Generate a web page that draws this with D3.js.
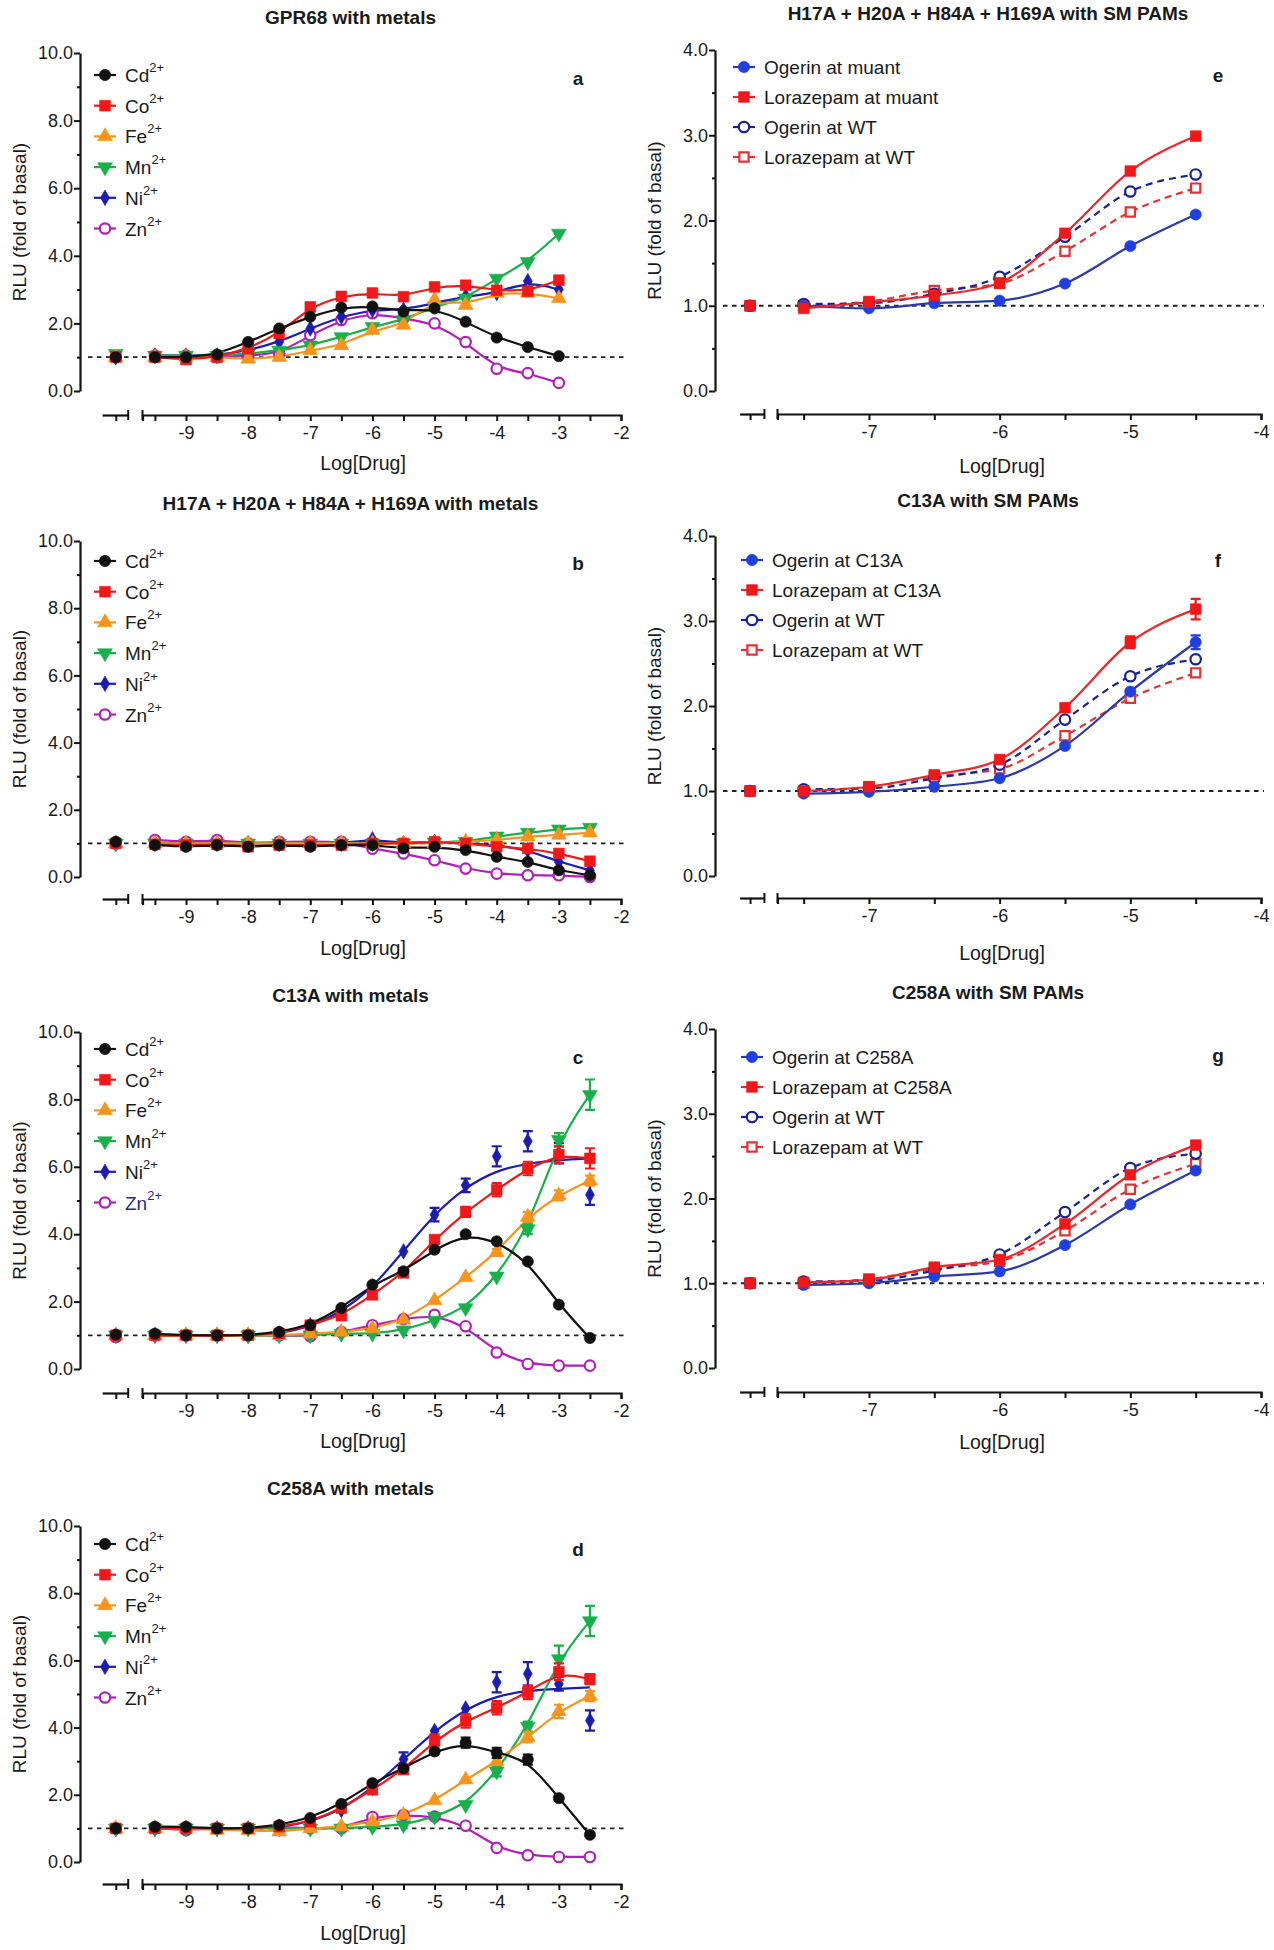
<!DOCTYPE html>
<html>
<head>
<meta charset="utf-8">
<script src="https://cdn.jsdelivr.net/npm/d3@7"></script>
<style>
  body { margin: 0; background: #fff; }
  svg text { font-family: "Liberation Sans", Arial, sans-serif; fill: #1a1a1a; }
</style>
</head>
<body>
<svg id="fig" width="1274" height="1950"></svg>
<script>
// ---- doses (log M); first value of every series is the vehicle control ----
var metalDosesA = [-9.5, -9, -8.5, -8, -7.5, -7, -6.5, -6, -5.5, -5, -4.5, -4, -3.5, -3];
var metalDoses = [-9.5, -9, -8.5, -8, -7.5, -7, -6.5, -6, -5.5, -5, -4.5, -4, -3.5, -3, -2.5];
var pamDoses = [-7.5, -7, -6.5, -6, -5.5, -5, -4.5];

// ---- a: GPR68 with metals ----
var a_Cd = [1.0, 1.0, 1.0, 1.08, 1.45, 1.85, 2.2, 2.47, 2.5, 2.35, 2.45, 2.05, 1.58, 1.3, 1.03];
var a_Co = [1.0, 1.0, 0.93, 1.0, 1.25, 1.7, 2.49, 2.8, 2.9, 2.79, 3.08, 3.13, 2.98, 2.95, 3.28];
var a_Fe = [1.0, 1.0, 1.0, 1.0, 0.95, 1.0, 1.2, 1.35, 1.8, 1.95, 2.7, 2.54, 2.9, 2.9, 2.74];
var a_Mn = [1.1, 1.05, 1.05, 1.05, 1.1, 1.2, 1.35, 1.6, 1.9, 2.1, 2.5, 2.74, 3.33, 3.82, 4.66];
var a_Ni = [1.0, 1.05, 1.05, 1.05, 1.2, 1.45, 1.85, 2.2, 2.4, 2.4, 2.6, 2.8, 2.9, 3.25, 3.0];
var a_Zn = [1.0, 1.05, 1.05, 1.0, 1.05, 1.1, 1.65, 2.1, 2.3, 2.15, 2.0, 1.45, 0.66, 0.53, 0.24];

// ---- b: H17A + H20A + H84A + H169A with metals ----
var b_Cd = [1.05, 0.95, 0.9, 0.95, 0.9, 0.95, 0.9, 0.95, 0.95, 0.85, 0.9, 0.8, 0.6, 0.45, 0.2, 0.05];
var b_Co = [1.0, 0.97, 0.95, 0.97, 0.9, 0.95, 0.95, 0.95, 1.0, 1.0, 1.05, 1.0, 0.9, 0.85, 0.7, 0.47];
var b_Fe = [1.0, 1.0, 1.0, 1.0, 1.0, 1.0, 1.0, 1.0, 1.0, 1.0, 1.0, 1.05, 1.1, 1.2, 1.25, 1.32];
var b_Mn = [1.0, 1.0, 1.0, 1.0, 1.0, 1.0, 1.0, 1.0, 1.0, 1.0, 1.03, 1.05, 1.21, 1.32, 1.42, 1.47];
var b_Ni = [1.0, 1.0, 1.0, 1.0, 1.0, 1.0, 1.0, 1.0, 1.12, 1.0, 1.05, 1.0, 0.95, 0.8, 0.45, 0.2];
var b_Zn = [1.0, 1.1, 1.05, 1.1, 1.0, 1.05, 1.05, 1.05, 0.84, 0.7, 0.5, 0.25, 0.1, 0.05, 0.05, 0.0];

// ---- c: C13A with metals ----
var c_Cd = [1.02, 1.05, 1.0, 1.0, 1.0, 1.1, 1.3, 1.81, 2.5, 2.9, 3.54, 4.0, 3.79, 3.19, 1.91, 0.92];
var c_Co = [1.0, 1.0, 1.0, 1.0, 1.0, 1.05, 1.3, 1.58, 2.2, 2.85, 3.84, 4.66, 5.32, 5.95, 6.36, 6.25];
var c_Fe = [1.0, 1.0, 1.0, 1.0, 1.0, 1.0, 1.05, 1.1, 1.2, 1.46, 2.03, 2.72, 3.46, 4.51, 5.15, 5.59];
var c_Mn = [1.0, 1.0, 1.0, 1.0, 1.0, 1.0, 1.0, 1.05, 1.05, 1.15, 1.44, 1.81, 2.75, 4.15, 6.8, 8.14];
var c_Ni = [1.0, 1.0, 1.0, 1.0, 1.0, 1.05, 1.3, 1.7, 2.45, 3.49, 4.58, 5.45, 6.31, 6.76, 6.4, 5.17];
var c_Zn = [0.95, 1.0, 1.0, 1.0, 1.0, 1.0, 0.97, 1.1, 1.3, 1.48, 1.61, 1.27, 0.49, 0.15, 0.1, 0.1];
var c_Co_err = [0, 0, 0, 0, 0, 0, 0, 0, 0, 0, 0.1, 0.15, 0.2, 0.2, 0.25, 0.3];
var c_Fe_err = [0, 0, 0, 0, 0, 0, 0, 0, 0, 0, 0, 0, 0.1, 0.15, 0.15, 0.15];
var c_Mn_err = [0, 0, 0, 0, 0, 0, 0, 0, 0, 0, 0, 0, 0, 0.15, 0.2, 0.45];
var c_Ni_err = [0, 0, 0, 0, 0, 0, 0, 0, 0, 0, 0.2, 0.2, 0.3, 0.3, 0.3, 0.3];
// fitted Ni curve as drawn in the figure (read at each dose, same layout as the data)
var c_Ni_fit = [1.0, 1.0, 1.0, 1.0, 1.0, 1.05, 1.25, 1.7, 2.4, 3.5, 4.6, 5.4, 5.9, 6.1, 6.2, 6.25];

// ---- d: C258A with metals ----
var d_Cd = [1.0, 1.05, 1.05, 1.0, 1.0, 1.1, 1.31, 1.73, 2.35, 2.79, 3.29, 3.55, 3.25, 3.05, 1.9, 0.81];
var d_Co = [1.0, 1.0, 1.0, 1.0, 1.0, 1.05, 1.2, 1.6, 2.15, 2.75, 3.6, 4.2, 4.59, 5.05, 5.66, 5.44];
var d_Fe = [1.0, 1.0, 1.0, 0.95, 0.95, 0.9, 1.0, 1.05, 1.2, 1.4, 1.83, 2.45, 2.99, 3.71, 4.48, 4.94];
var d_Mn = [1.0, 1.0, 1.0, 1.0, 1.0, 1.0, 1.0, 1.0, 1.05, 1.1, 1.35, 1.7, 2.7, 4.03, 6.04, 7.17];
var d_Ni = [1.0, 1.0, 1.0, 1.0, 1.0, 1.05, 1.2, 1.55, 2.2, 3.06, 3.9, 4.57, 5.35, 5.6, 5.3, 4.21];
var d_Zn = [1.0, 1.0, 0.95, 1.0, 1.0, 1.05, 1.0, 1.0, 1.34, 1.4, 1.35, 1.08, 0.42, 0.2, 0.15, 0.15];
var d_Cd_err = [0, 0, 0, 0, 0, 0, 0, 0, 0, 0, 0, 0.15, 0.15, 0.15, 0, 0];
var d_Co_err = [0, 0, 0, 0, 0, 0, 0, 0, 0, 0, 0.2, 0.2, 0.2, 0.2, 0.25, 0.15];
var d_Fe_err = [0, 0, 0, 0, 0, 0, 0, 0, 0, 0, 0, 0, 0, 0.15, 0.2, 0.15];
var d_Mn_err = [0, 0, 0, 0, 0, 0, 0, 0, 0, 0, 0, 0, 0.15, 0.15, 0.4, 0.45];
var d_Ni_err = [0, 0, 0, 0, 0, 0, 0, 0, 0, 0.2, 0, 0, 0.3, 0.35, 0.2, 0.3];
var d_Ni_fit = [1.0, 1.0, 1.0, 1.0, 1.0, 1.02, 1.2, 1.55, 2.2, 3.05, 3.9, 4.55, 4.95, 5.1, 5.15, 5.2];

// ---- e/f/g: SM PAMs ----
var e_OgMut = [1.0, 1.0, 0.97, 1.03, 1.06, 1.26, 1.70, 2.07];
var e_LoMut = [1.0, 0.97, 1.04, 1.12, 1.27, 1.85, 2.58, 2.99];
var e_OgWT = [1.0, 1.02, 1.03, 1.14, 1.34, 1.81, 2.34, 2.54];
var e_LoWT = [1.0, 1.0, 1.05, 1.18, 1.26, 1.64, 2.10, 2.38];
var f_OgC13A = [1.0, 0.97, 0.99, 1.05, 1.15, 1.53, 2.17, 2.75];
var f_LoC13A = [1.0, 1.0, 1.05, 1.19, 1.37, 1.98, 2.75, 3.14];
var f_OgWT = [1.0, 1.02, 1.03, 1.15, 1.31, 1.84, 2.35, 2.55];
var f_LoWT = [1.0, 1.0, 1.05, 1.17, 1.26, 1.65, 2.09, 2.39];
var f_OgC13A_err = [0, 0, 0, 0, 0, 0, 0, 0.08];
var f_LoC13A_err = [0, 0, 0, 0, 0, 0, 0.07, 0.12];
var g_OgC258A = [1.0, 0.98, 1.0, 1.08, 1.14, 1.45, 1.93, 2.33];
var g_LoC258A = [1.0, 1.01, 1.04, 1.19, 1.28, 1.70, 2.28, 2.63];
var g_OgWT = [1.0, 1.02, 1.03, 1.15, 1.34, 1.84, 2.36, 2.53];
var g_LoWT = [1.0, 1.0, 1.05, 1.17, 1.26, 1.62, 2.11, 2.41];

// ---- marker / line styles ----
var metalStyle = {
  Cd: { color: "#111111", shape: "circle", open: false },
  Co: { color: "#f01818", shape: "square", open: false },
  Fe: { color: "#f7941d", shape: "triangle", open: false },
  Mn: { color: "#17b04a", shape: "down", open: false },
  Ni: { color: "#1c1cb0", shape: "diamond", open: false },
  Zn: { color: "#b020b8", shape: "circle", open: true }
};
var pamStyle = {
  ogMut: { color: "#1f3fe0", line: "#2a3aa8", shape: "circle", open: false, dash: null },
  loMut: { color: "#f01818", line: "#e8282c", shape: "square", open: false, dash: null },
  ogWT:  { color: "#1a2290", line: "#1a2290", shape: "circle", open: true, dash: "7,5" },
  loWT:  { color: "#e43232", line: "#e43232", shape: "square", open: true, dash: "7,5" }
};

var svg = d3.select("#fig");

function metalSeries(vals, errs, doses, fits) {
  return ["Cd", "Co", "Fe", "Mn", "Ni", "Zn"].map(function(n, i) {
    return { name: n, sup: "2+", values: vals[i], err: errs ? errs[i] : null,
             fit: fits ? fits[i] : null, doses: doses, style: metalStyle[n] };
  });
}

var panels = [
  { id: "a", side: "L", title: "GPR68 with metals", yTop: 53, yBot: 391, axisY: 415, titleY: 17, letterY: 78, legTop: 75, labelY: 463,
    series: metalSeries([a_Cd, a_Co, a_Fe, a_Mn, a_Ni, a_Zn], null, metalDosesA) },
  { id: "b", side: "L", title: "H17A + H20A + H84A + H169A with metals", yTop: 541, yBot: 877, axisY: 899, titleY: 503, letterY: 563, legTop: 561, labelY: 948,
    series: metalSeries([b_Cd, b_Co, b_Fe, b_Mn, b_Ni, b_Zn], null, metalDoses) },
  { id: "c", side: "L", title: "C13A with metals", yTop: 1032, yBot: 1369, axisY: 1393, titleY: 995, letterY: 1057, legTop: 1049, labelY: 1441, znLegend: "#2b2b8c",
    series: metalSeries([c_Cd, c_Co, c_Fe, c_Mn, c_Ni, c_Zn], [null, c_Co_err, c_Fe_err, c_Mn_err, c_Ni_err, null], metalDoses,
                        [null, null, null, null, c_Ni_fit, null]) },
  { id: "d", side: "L", title: "C258A with metals", yTop: 1526, yBot: 1862, axisY: 1884, titleY: 1488, letterY: 1549, legTop: 1544, labelY: 1933,
    series: metalSeries([d_Cd, d_Co, d_Fe, d_Mn, d_Ni, d_Zn], [d_Cd_err, d_Co_err, d_Fe_err, d_Mn_err, d_Ni_err, null], metalDoses,
                        [null, null, null, null, d_Ni_fit, null]) },
  { id: "e", side: "R", title: "H17A + H20A + H84A + H169A with SM PAMs", yTop: 50, yBot: 391, axisY: 414, titleY: 13, letterY: 75, legTop: 67, legDx: 29, labelY: 466,
    series: [
      { name: "Ogerin at muant", values: e_OgMut, style: pamStyle.ogMut },
      { name: "Lorazepam at muant", values: e_LoMut, style: pamStyle.loMut },
      { name: "Ogerin at WT", values: e_OgWT, style: pamStyle.ogWT },
      { name: "Lorazepam at WT", values: e_LoWT, style: pamStyle.loWT }] },
  { id: "f", side: "R", title: "C13A with SM PAMs", yTop: 536, yBot: 876, axisY: 898, titleY: 500, letterY: 560, legTop: 560, legDx: 37, labelY: 953,
    series: [
      { name: "Ogerin at C13A", values: f_OgC13A, err: f_OgC13A_err, style: pamStyle.ogMut },
      { name: "Lorazepam at C13A", values: f_LoC13A, err: f_LoC13A_err, style: pamStyle.loMut },
      { name: "Ogerin at WT", values: f_OgWT, style: pamStyle.ogWT },
      { name: "Lorazepam at WT", values: f_LoWT, style: pamStyle.loWT }] },
  { id: "g", side: "R", title: "C258A with SM PAMs", yTop: 1029, yBot: 1368, axisY: 1392, titleY: 992, letterY: 1055, legTop: 1057, legDx: 37, labelY: 1442,
    series: [
      { name: "Ogerin at C258A", values: g_OgC258A, style: pamStyle.ogMut },
      { name: "Lorazepam at C258A", values: g_LoC258A, style: pamStyle.loMut },
      { name: "Ogerin at WT", values: g_OgWT, style: pamStyle.ogWT },
      { name: "Lorazepam at WT", values: g_LoWT, style: pamStyle.loWT }] }
];

// draw one marker with d3.symbol
function marker(g, st, cx, cy) {
  var type = { circle: d3.symbolCircle, square: d3.symbolSquare, triangle: d3.symbolTriangle,
               down: d3.symbolTriangle, diamond: d3.symbolDiamond }[st.shape];
  var size = { circle: 100, square: 115, triangle: 95, down: 95, diamond: 70 }[st.shape];
  if (st.open) size = 85;
  g.append("path")
    .attr("d", d3.symbol().type(type).size(size)())
    .attr("transform", "translate(" + cx + "," + cy + ")" + (st.shape === "down" ? " rotate(180)" : ""))
    .attr("fill", st.open ? "#fff" : st.color)
    .attr("stroke", st.color)
    .attr("stroke-width", st.open ? 2.2 : 0.6);
}

function drawPanel(p) {
  var left = p.side === "L";
  var g = svg.append("g");
  var axisX = left ? 80 : 715;
  var x = left ? d3.scaleLinear().domain([-9.7, -2]).range([142.5, 621])
               : d3.scaleLinear().domain([-7.7, -4]).range([777.5, 1261]);
  var ctrl = left ? -10.13 : -7.91;          // position of the control dose on the broken segment
  var brk = left ? [-10.35, -9.93] : [-7.99, -7.8];
  var yMax = left ? 10 : 4;
  var y = d3.scaleLinear().domain([0, yMax]).range([p.yBot, p.yTop]);
  var xEnd = x.range()[1];

  // title
  g.append("text").attr("x", (axisX + xEnd) / 2).attr("y", p.titleY)
    .attr("text-anchor", "middle").attr("dominant-baseline", "central")
    .attr("font-size", 19).attr("font-weight", "bold").attr("fill", "#000").text(p.title);

  // y axis
  var major = left ? [0, 2, 4, 6, 8, 10] : [0, 1, 2, 3, 4];
  var minor = left ? [1, 3, 5, 7, 9] : [0.5, 1.5, 2.5, 3.5];
  var yAx = g.append("g").attr("transform", "translate(" + axisX + ",0)")
    .call(d3.axisLeft(y).tickValues(major).tickSize(6).tickSizeOuter(0).tickFormat(d3.format(".1f")));
  g.append("g").attr("transform", "translate(" + axisX + ",0)")
    .call(d3.axisLeft(y).tickValues(minor).tickSize(3).tickFormat(""))
    .select(".domain").remove();

  // x axis (main part + broken control segment)
  var xt = left ? d3.range(-19, -3).map(function(d) { return d / 2; })
                : d3.range(-15, -7).map(function(d) { return d / 2; });
  var xAx = g.append("g").attr("transform", "translate(0," + p.axisY + ")")
    .call(d3.axisBottom(x).tickValues(xt).tickSize(6).tickSizeOuter(6)
      .tickFormat(function(d) { return Number.isInteger(d) ? String(d) : ""; }));
  var xb = d3.scaleLinear().domain(brk).range([x(brk[0]), x(brk[1])]);
  g.append("g").attr("transform", "translate(0," + p.axisY + ")")
    .call(d3.axisBottom(xb).tickValues([ctrl]).tickSize(6).tickSizeOuter(0).tickFormat(""));
  [x(brk[1]), x.range()[0]].forEach(function(bx) {
    g.append("line").attr("x1", bx).attr("x2", bx)
      .attr("y1", p.axisY - 5).attr("y2", p.axisY + 5).attr("stroke", "#111").attr("stroke-width", 2);
  });

  g.selectAll(".domain").attr("stroke", "#111").attr("stroke-width", 2.2);
  g.selectAll(".tick line").attr("stroke", "#111").attr("stroke-width", 2);
  g.selectAll(".tick text").attr("font-size", 18).attr("fill", "#1a1a1a");
  yAx.selectAll(".tick text").attr("x", -7);
  xAx.selectAll(".tick text").attr("y", 11);

  // axis labels
  g.append("text").attr("transform", "translate(" + (axisX - 61) + "," + ((p.yTop + p.yBot) / 2) + ") rotate(-90)")
    .attr("text-anchor", "middle").attr("dominant-baseline", "central").attr("font-size", 19)
    .text("RLU (fold of basal)");
  g.append("text").attr("x", left ? 363 : 1002).attr("y", p.labelY)
    .attr("text-anchor", "middle").attr("dominant-baseline", "central").attr("font-size", 19.5)
    .text("Log[Drug]");

  // panel letter
  g.append("text").attr("x", xEnd - 43).attr("y", p.letterY)
    .attr("text-anchor", "middle").attr("dominant-baseline", "central")
    .attr("font-size", 19).attr("font-weight", "bold").attr("fill", "#000").text(p.id);

  // baseline at 1.0
  g.append("line").attr("x1", axisX + 8).attr("x2", xEnd + 3)
    .attr("y1", y(1)).attr("y2", y(1))
    .attr("stroke", "#222").attr("stroke-width", 1.8).attr("stroke-dasharray", "4.5,4.5");

  // curves
  var order = left ? p.series.slice().reverse() : [p.series[3], p.series[2], p.series[0], p.series[1]];
  var line = d3.line().curve(left ? d3.curveBasis : d3.curveMonotoneX)
    .x(function(d) { return x(d[0]); }).y(function(d) { return y(d[1]); });
  order.forEach(function(s) {
    var doses = s.doses || pamDoses;
    var src = s.fit || s.values;
    var pts = doses.map(function(d, i) { return [d, src[i + 1]]; });
    g.append("path").attr("d", line(pts)).attr("fill", "none")
      .attr("stroke", s.style.line || s.style.color).attr("stroke-width", 2.2)
      .attr("stroke-dasharray", s.style.dash || null);
  });

  // error bars + markers
  order.forEach(function(s) {
    var doses = s.doses || pamDoses;
    var xs = [ctrl].concat(doses);
    if (s.err) {
      s.err.forEach(function(e, i) {
        if (!e) return;
        var cx = x(xs[i]), v = s.values[i];
        g.append("path")
          .attr("d", "M" + cx + "," + y(v - e) + "V" + y(v + e) +
                     "M" + (cx - 5) + "," + y(v + e) + "H" + (cx + 5) +
                     "M" + (cx - 5) + "," + y(v - e) + "H" + (cx + 5))
          .attr("stroke", s.style.color).attr("stroke-width", 2.2).attr("fill", "none");
      });
    }
    s.values.forEach(function(v, i) { marker(g, s.style, x(xs[i]), y(v)); });
  });

  // legend
  var legX = axisX + (left ? 25 : p.legDx);
  var step = left ? 30.7 : 30;
  p.series.forEach(function(s, i) {
    var ly = p.legTop + i * step;
    g.append("line").attr("x1", legX - 11).attr("x2", legX + 11).attr("y1", ly).attr("y2", ly)
      .attr("stroke", s.style.line || s.style.color).attr("stroke-width", 2.2);
    marker(g, s.style, legX, ly);
    var t = g.append("text").attr("x", legX + 20).attr("y", ly).attr("dominant-baseline", "central")
      .attr("font-size", 19);
    if (p.znLegend && s.name === "Zn") t.style("fill", p.znLegend);
    t.append("tspan").text(s.name);
    if (s.sup) t.append("tspan").attr("dy", -8).attr("font-size", 13).text(s.sup);
  });
}

panels.forEach(drawPanel);
</script>
</body>
</html>
